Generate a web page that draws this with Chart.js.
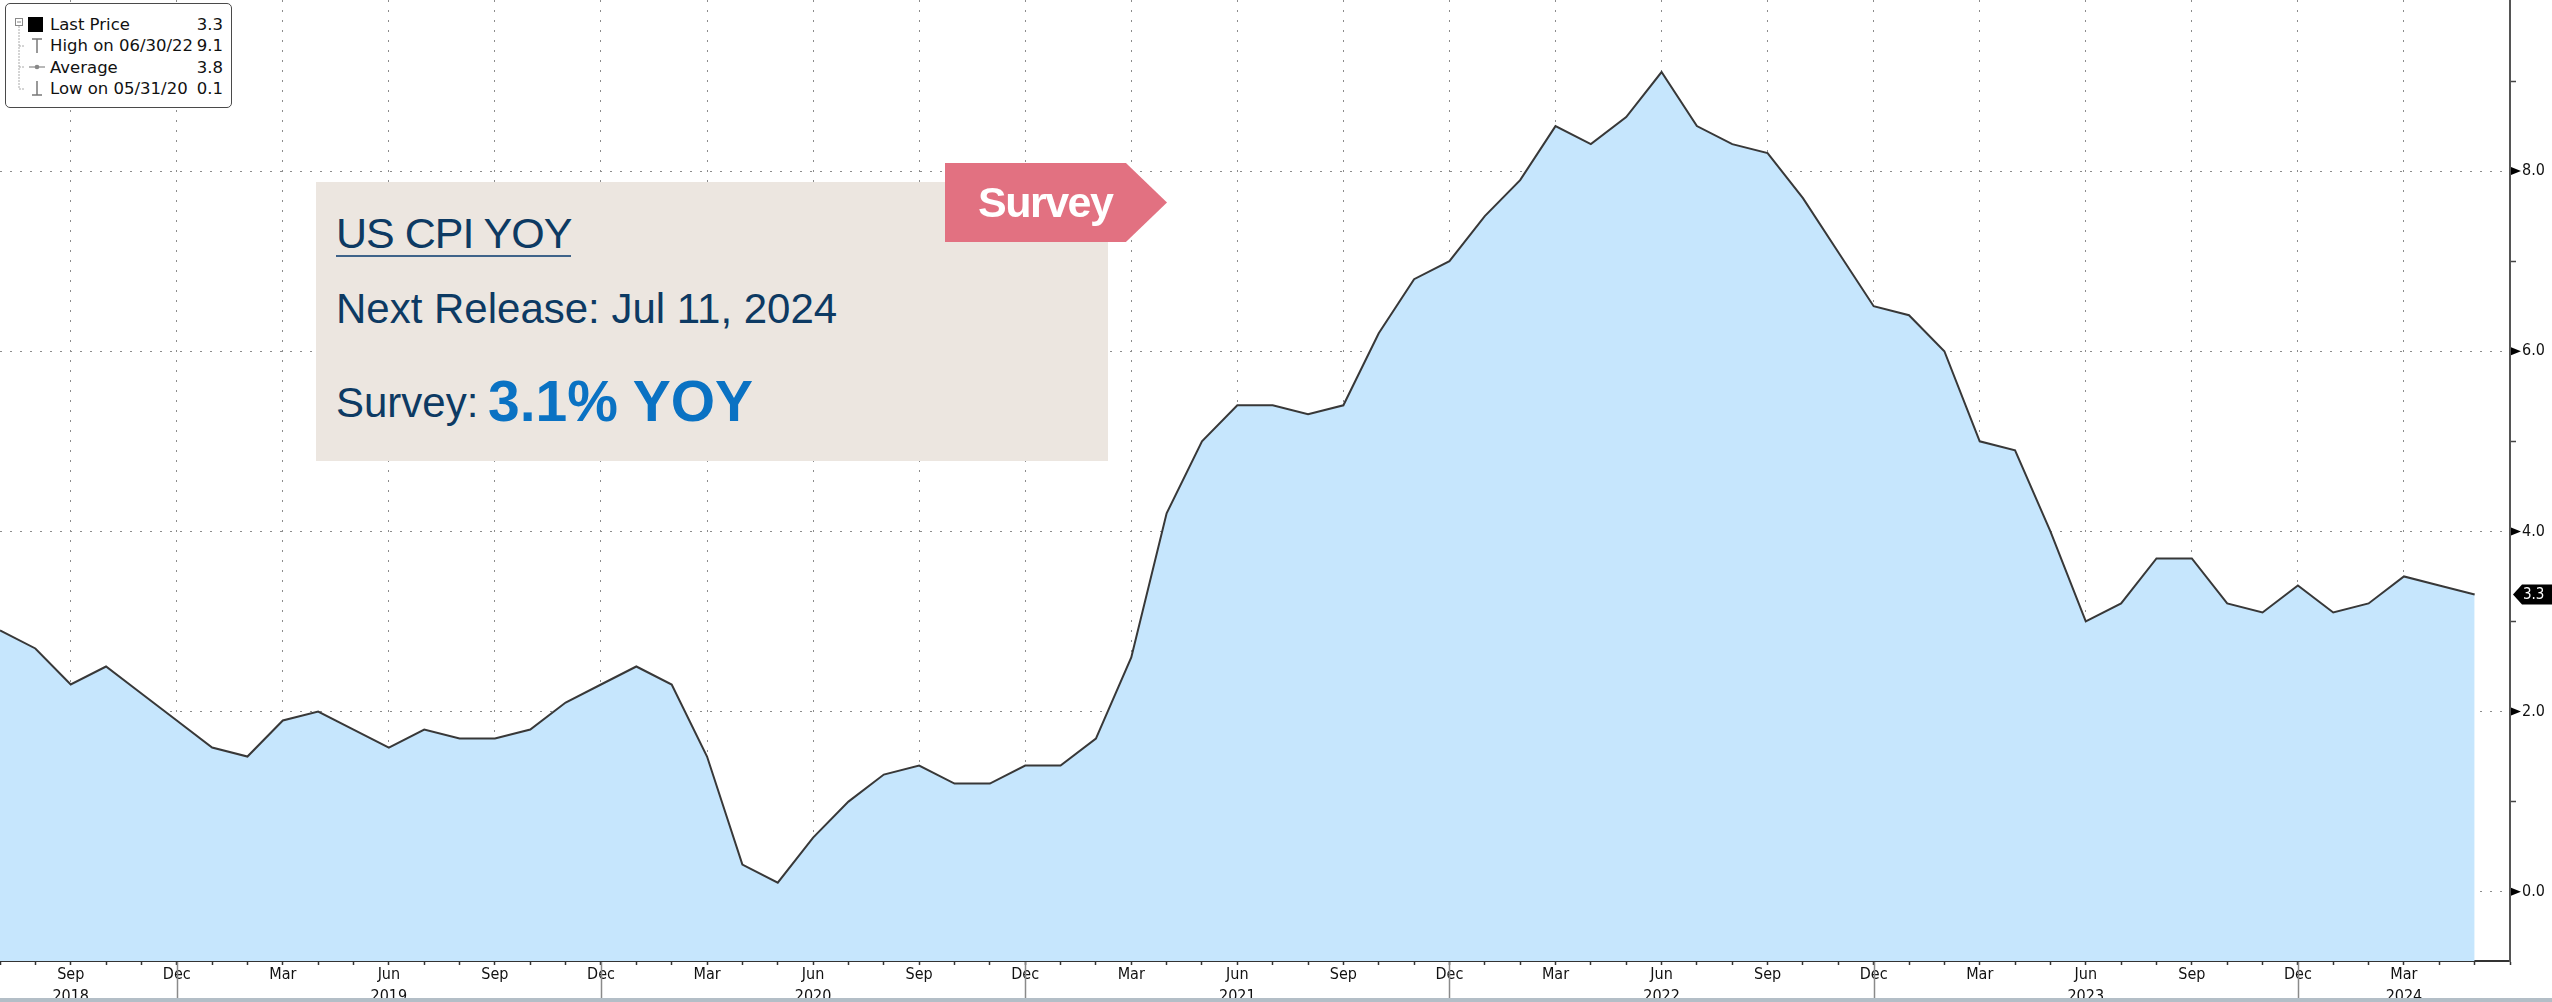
<!DOCTYPE html>
<html>
<head>
<meta charset="utf-8">
<title>US CPI YOY</title>
<script src="https://cdn.jsdelivr.net/npm/chart.js@4.4.1/dist/chart.umd.min.js"></script>
<style>
  html, body { margin: 0; padding: 0; background: #fff; }
  #wrap { position: relative; width: 2552px; height: 1002px; overflow: hidden; }
  #cpiChart { position: absolute; left: 0; top: 0; }
  .abs { position: absolute; white-space: nowrap; }
  #legend { left: 5px; top: 3px; width: 227px; height: 105px; border: 1.5px solid #4a4a4a;
            border-radius: 5px; background: #fff; box-sizing: border-box; }
  .lg { font-family: "DejaVu Sans", sans-serif; font-size: 16.5px; line-height: 16.5px; color: #111; }
  .lgv { text-align: right; right: 2329px; }
  #note { left: 316px; top: 182px; width: 792px; height: 279px; background: #ECE6E0; }
  .nt { font-family: "Liberation Sans", Arial, sans-serif; color: #0D3A63; }
  #title { left: 336px; top: 212px; font-size: 43px; line-height: 43px; letter-spacing: -1px; }
  #titleRule { left: 336px; top: 255px; width: 235px; height: 2px; background: #3F6389; }
  #release { left: 336px; top: 288px; font-size: 42px; line-height: 42px; }
  #surveyLbl { left: 336px; top: 382px; font-size: 42px; line-height: 42px; }
  #surveyVal { left: 488px; top: 373px; font-size: 57px; line-height: 57px; font-weight: bold; color: #0A72C3; }
  #tag { left: 945px; top: 163px; width: 222px; height: 79px; background: #E27181;
         clip-path: polygon(0 0, 81.5% 0, 100% 50%, 81.5% 100%, 0 100%); }
  #tagText { left: 978px; top: 181px; font-family: "Liberation Sans", Arial, sans-serif; font-weight: bold;
             font-size: 43px; line-height: 43px; letter-spacing: -1.5px; color: #fff; }
</style>
</head>
<body>
<div id="wrap">
  <canvas id="cpiChart" width="2552" height="1002"></canvas>

  <div id="legend" class="abs"></div>
  <svg class="abs" style="left:0;top:0" width="240" height="112">
    <rect x="15.5" y="18.5" width="7" height="7" fill="#fff" stroke="#888" stroke-width="1"/>
    <line x1="17" y1="22" x2="21" y2="22" stroke="#888" stroke-width="1"/>
    <line x1="19" y1="26" x2="19" y2="89" stroke="#aaa" stroke-width="1" stroke-dasharray="2 1"/>
    <line x1="19" y1="46" x2="25" y2="46" stroke="#aaa" stroke-width="1" stroke-dasharray="2 1"/>
    <line x1="19" y1="67" x2="25" y2="67" stroke="#aaa" stroke-width="1" stroke-dasharray="2 1"/>
    <line x1="19" y1="89" x2="25" y2="89" stroke="#aaa" stroke-width="1" stroke-dasharray="2 1"/>
    <rect x="28" y="17" width="15" height="15" fill="#000"/>
    <line x1="32" y1="39" x2="42" y2="39" stroke="#777" stroke-width="1.5"/>
    <line x1="37" y1="39" x2="37" y2="53" stroke="#777" stroke-width="1.5"/>
    <line x1="29" y1="67" x2="45" y2="67" stroke="#888" stroke-width="1.2"/>
    <circle cx="37" cy="67" r="2.3" fill="#888"/>
    <line x1="37" y1="81" x2="37" y2="95" stroke="#777" stroke-width="1.5"/>
    <line x1="32" y1="95" x2="42" y2="95" stroke="#777" stroke-width="1.5"/>
  </svg>
  <div class="abs lg" style="left:50px;top:17px">Last Price</div>
  <div class="abs lg" style="left:50px;top:38px">High on 06/30/22</div>
  <div class="abs lg" style="left:50px;top:60px">Average</div>
  <div class="abs lg" style="left:50px;top:81px">Low on 05/31/20</div>
  <div class="abs lg lgv" style="top:17px">3.3</div>
  <div class="abs lg lgv" style="top:38px">9.1</div>
  <div class="abs lg lgv" style="top:60px">3.8</div>
  <div class="abs lg lgv" style="top:81px">0.1</div>

  <div id="note" class="abs"></div>
  <div id="title" class="abs nt">US CPI YOY</div>
  <div id="titleRule" class="abs"></div>
  <div id="release" class="abs nt">Next Release: Jul 11, 2024</div>
  <div id="surveyLbl" class="abs nt">Survey:</div>
  <div id="surveyVal" class="abs nt">3.1% YOY</div>
  <div id="tag" class="abs"></div>
  <div id="tagText" class="abs">Survey</div>
</div>

<script>
// monthly observations, Jul 2018 .. Jun 2024 (last slot is empty space on the axis)
const months = [
  '2018-07','2018-08','2018-09','2018-10','2018-11','2018-12',
  '2019-01','2019-02','2019-03','2019-04','2019-05','2019-06','2019-07','2019-08','2019-09','2019-10','2019-11','2019-12',
  '2020-01','2020-02','2020-03','2020-04','2020-05','2020-06','2020-07','2020-08','2020-09','2020-10','2020-11','2020-12',
  '2021-01','2021-02','2021-03','2021-04','2021-05','2021-06','2021-07','2021-08','2021-09','2021-10','2021-11','2021-12',
  '2022-01','2022-02','2022-03','2022-04','2022-05','2022-06','2022-07','2022-08','2022-09','2022-10','2022-11','2022-12',
  '2023-01','2023-02','2023-03','2023-04','2023-05','2023-06','2023-07','2023-08','2023-09','2023-10','2023-11','2023-12',
  '2024-01','2024-02','2024-03','2024-04','2024-05','2024-06'
];

// US CPI YoY %
const cpiYoY = [
  2.9, 2.7, 2.3, 2.5, 2.2, 1.9,
  1.6, 1.5, 1.9, 2.0, 1.8, 1.6, 1.8, 1.7, 1.7, 1.8, 2.1, 2.3,
  2.5, 2.3, 1.5, 0.3, 0.1, 0.6, 1.0, 1.3, 1.4, 1.2, 1.2, 1.4,
  1.4, 1.7, 2.6, 4.2, 5.0, 5.4, 5.4, 5.3, 5.4, 6.2, 6.8, 7.0,
  7.5, 7.9, 8.5, 8.3, 8.6, 9.1, 8.5, 8.3, 8.2, 7.7, 7.1, 6.5,
  6.4, 6.0, 5.0, 4.9, 4.0, 3.0, 3.2, 3.7, 3.7, 3.2, 3.1, 3.4,
  3.1, 3.2, 3.5, 3.4, 3.3
];

const monthAbbr = ['Jan','Feb','Mar','Apr','May','Jun','Jul','Aug','Sep','Oct','Nov','Dec'];
const labelledMonths = ['Mar','Jun','Sep','Dec'];
const yearLabelMonths = ['2018-09','2019-06','2020-06','2021-06','2022-06','2023-06','2024-03'];
const yearBreakMonths = ['2018-12','2019-12','2020-12','2021-12','2022-12','2023-12'];
const yTickValues = [0, 1, 2, 3, 4, 5, 6, 7, 8, 9];
const yLabelValues = [0, 2, 4, 6, 8];

const axisFont = { family: '"DejaVu Sans Condensed", "DejaVu Sans", sans-serif', size: 16, lineHeight: 1.35 };
const dotted = '#8c8c8c';
const clear = 'rgba(0,0,0,0)';

function monthName(i) {
  return monthAbbr[parseInt(months[i].slice(5), 10) - 1];
}
function isLabelled(i) {
  return i < cpiYoY.length && labelledMonths.includes(monthName(i));
}

// bits Chart.js has no option for: axis arrows, year breaks, last price tag
const bloombergBits = {
  id: 'bloombergBits',
  afterDraw(chart) {
    const { ctx, chartArea, scales: { x, y } } = chart;
    ctx.save();

    ctx.fillStyle = '#000';
    yLabelValues.forEach(v => {
      const py = y.getPixelForValue(v);
      ctx.beginPath();
      ctx.moveTo(chartArea.right + 1, py - 4);
      ctx.lineTo(chartArea.right + 11, py);
      ctx.lineTo(chartArea.right + 1, py + 4);
      ctx.closePath();
      ctx.fill();
    });

    ctx.strokeStyle = '#8a8a8a';
    ctx.lineWidth = 1.5;
    yearBreakMonths.forEach(m => {
      const px = Math.round(x.getPixelForValue(months.indexOf(m))) + 0.5;
      ctx.beginPath();
      ctx.moveTo(px, chartArea.bottom + 1);
      ctx.lineTo(px, 998);
      ctx.stroke();
    });

    ctx.fillStyle = '#B3BEC7';
    ctx.fillRect(0, 998, chart.width, 4);

    const last = cpiYoY[cpiYoY.length - 1];
    const ty = y.getPixelForValue(last);
    const tx = chartArea.right + 3;
    ctx.fillStyle = '#000';
    ctx.beginPath();
    ctx.moveTo(tx, ty);
    ctx.lineTo(tx + 9, ty - 10);
    ctx.lineTo(chart.width, ty - 10);
    ctx.lineTo(chart.width, ty + 10);
    ctx.lineTo(tx + 9, ty + 10);
    ctx.closePath();
    ctx.fill();
    ctx.fillStyle = '#fff';
    ctx.font = '15px "DejaVu Sans Condensed", "DejaVu Sans", sans-serif';
    ctx.textBaseline = 'middle';
    ctx.fillText(last.toFixed(1), tx + 10, ty + 1);

    ctx.restore();
  }
};

new Chart(document.getElementById('cpiChart'), {
  type: 'line',
  data: {
    labels: months,
    datasets: [{
      data: cpiYoY,
      borderColor: '#383838',
      borderWidth: 2,
      backgroundColor: '#C6E6FD',
      fill: 'start',
      pointRadius: 0,
      tension: 0
    }]
  },
  options: {
    responsive: false,
    animation: false,
    events: [],
    layout: { padding: 0 },
    plugins: { legend: { display: false }, tooltip: { enabled: false } },
    scales: {
      x: {
        type: 'category',
        offset: false,
        z: 1,
        grid: {
          color: c => (c.index !== undefined && isLabelled(c.index)) ? dotted : clear,
          lineWidth: 1,
          tickLength: 4,
          tickColor: '#333',
          tickWidth: 1.5,
          offset: false
        },
        border: { display: true, color: '#333', width: 2, dash: [2, 8] },
        ticks: {
          autoSkip: false,
          maxRotation: 0,
          padding: -1,
          color: '#111',
          font: axisFont,
          callback: (value, index) => {
            if (!isLabelled(index)) return '';
            const m = months[index];
            return yearLabelMonths.includes(m) ? [monthName(index), m.slice(0, 4)] : monthName(index);
          }
        },
        afterFit: s => { s.height = 41; s.paddingLeft = 0; s.paddingRight = 0; }
      },
      y: {
        position: 'right',
        min: -0.77,
        max: 9.9,
        z: 1,
        afterBuildTicks: s => { s.ticks = yTickValues.map(v => ({ value: v })); },
        grid: {
          color: c => (c.tick && yLabelValues.includes(c.tick.value)) ? dotted : clear,
          lineWidth: 1,
          tickLength: 6,
          tickWidth: 1.5,
          tickColor: c => (c.tick && !yLabelValues.includes(c.tick.value)) ? '#444' : clear
        },
        border: { display: true, color: '#555', width: 2, dash: [2, 8] },
        ticks: {
          padding: 6,
          color: '#111',
          font: { family: axisFont.family, size: 16 },
          callback: v => yLabelValues.includes(v) ? v.toFixed(1) : ''
        },
        afterFit: s => { s.width = 42; s.paddingTop = 0; s.paddingBottom = 0; }
      }
    }
  },
  plugins: [bloombergBits]
});
</script>
</body>
</html>
